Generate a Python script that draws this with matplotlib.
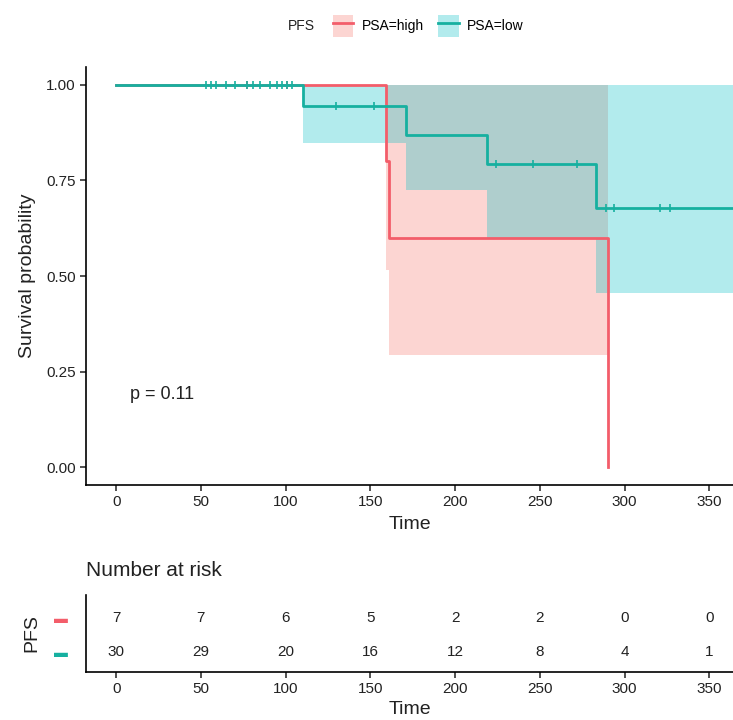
import numpy as np
import matplotlib
matplotlib.use("Agg")
import matplotlib.pyplot as plt
from matplotlib.patches import Patch
from matplotlib.lines import Line2D

plt.rcParams['font.family'] = ['Liberation Sans', 'DejaVu Sans']

# Kaplan-Meier steps
high_t = [0, 159, 161, 290]
high_s = [1.0, 0.80, 0.60, 0.0]
high_lo = [1.0, 0.516, 0.293, np.nan]
high_hi = [1.0, 1.0, 1.0, np.nan]
high_end = 290
high_censor = [77, 101]

low_t = [0, 110.5, 171, 219, 283]
low_s = [1.0, 0.946, 0.868, 0.794, 0.679]
low_lo = [1.0, 0.848, 0.725, 0.600, 0.455]
low_hi = [1.0, 1.0, 1.0, 1.0, 1.0]
low_end = 372
low_censor = [53, 56, 59, 65, 70, 77, 81, 85, 91, 95, 98, 101, 104,
              130, 152, 224, 246, 272, 289, 294, 321, 327]

risk_times = [0, 50, 100, 150, 200, 250, 300, 350]
risk_high = [7, 7, 6, 5, 2, 2, 0, 0]
risk_low = [30, 29, 20, 16, 12, 8, 4, 1]

pval_text = "p = 0.11"

red_line = '#F35D6A'
red_fill = '#F8766D'
teal_line = '#16B0A0'
teal_fill = '#00BFC4'
txt = '#222222'

fig = plt.figure(figsize=(7.33, 7.2), dpi=100)
ax = fig.add_axes([86 / 733, 1 - 485 / 720, 1 - 86 / 733, (485 - 67) / 720])


def km(ax, t, s, lo, hi, end, censor, lc, fc):
    tt = list(t) + [end]
    ss = list(s) + [s[-1]]
    # confidence band: stop where it is undefined
    lo2 = [v for v in lo if not np.isnan(v)]
    hi2 = [v for v in hi if not np.isnan(v)]
    k = len(lo2)
    bt = list(t[:k]) + [t[k] if k < len(t) else end]
    ax.fill_between(bt, lo2 + [lo2[-1]], hi2 + [hi2[-1]], step='post',
                    color=fc, alpha=0.3, lw=0)
    ax.step(tt, ss, where='post', color=lc, lw=2.0)
    idx = np.searchsorted(t, censor, side='right') - 1
    cs = np.array(s)[idx]
    ax.plot(censor, cs, ls='none', marker='|', ms=6, mew=1.2, color=lc)


km(ax, high_t, high_s, high_lo, high_hi, high_end, high_censor, red_line, red_fill)
km(ax, low_t, low_s, low_lo, low_hi, low_end, low_censor, teal_line, teal_fill)

ax.set_xlim(-17.8, 364)
ax.set_ylim(-0.047, 1.047)
ax.set_xticks(risk_times)
ax.set_yticks([0, 0.25, 0.5, 0.75, 1.0])
ax.set_yticklabels(['0.00', '0.25', '0.50', '0.75', '1.00'])
for sp in ['top', 'right']:
    ax.spines[sp].set_visible(False)
for sp in ['left', 'bottom']:
    ax.spines[sp].set_linewidth(1.2)
ax.tick_params(labelsize=11, colors=txt, length=4, width=1.1)
ax.set_xlabel('Time', fontsize=14, color=txt, labelpad=5)
ax.set_ylabel('Survival probability', fontsize=14, color=txt, labelpad=7)
ax.text(8, 0.19, pval_text, fontsize=13, color=txt, va='center', ha='left')

# legend on top
fig.text(301 / 733, 1 - 26 / 720, 'PFS', fontsize=10, color=txt, va='center', ha='center')
handles = [(Patch(facecolor=red_fill, alpha=0.3, lw=0), Line2D([], [], color=red_line, lw=2)),
           (Patch(facecolor=teal_fill, alpha=0.3, lw=0), Line2D([], [], color=teal_line, lw=2))]
fig.legend(handles, ['PSA=high', 'PSA=low'], loc='center left',
           bbox_to_anchor=(320 / 733, 1 - 26 / 720), ncol=2, frameon=False,
           fontsize=10, handlelength=1.5, handleheight=2.0, columnspacing=1.0,
           handletextpad=0.6)

# risk table
tab = fig.add_axes([86 / 733, 1 - 672 / 720, 1 - 86 / 733, (672 - 595) / 720])
tab.set_xlim(-17.8, 364)
tab.set_ylim(0.4, 2.67)
for x, n in zip(risk_times, risk_high):
    tab.text(x, 2, str(n), ha='center', va='center', fontsize=11, color=txt)
for x, n in zip(risk_times, risk_low):
    tab.text(x, 1, str(n), ha='center', va='center', fontsize=11, color=txt)
tab.set_xticks(risk_times)
tab.set_yticks([2, 1])
tab.set_yticklabels(['\u25ac', '\u25ac'], fontsize=10)
for lbl, c in zip(tab.get_yticklabels(), [red_line, teal_line]):
    lbl.set_color(c)
tab.tick_params(axis='y', length=0, pad=13)
tab.tick_params(axis='x', labelsize=11, colors=txt, length=4, width=1.1)
for sp in ['top', 'right']:
    tab.spines[sp].set_visible(False)
for sp in ['left', 'bottom']:
    tab.spines[sp].set_linewidth(1.2)
tab.set_xlabel('Time', fontsize=14, color=txt, labelpad=3)
tab.set_ylabel('PFS', fontsize=14, color=txt, labelpad=10)
tab.set_title('Number at risk', fontsize=15, color=txt, loc='left', pad=14)

fig.savefig('out.png', dpi=100)
